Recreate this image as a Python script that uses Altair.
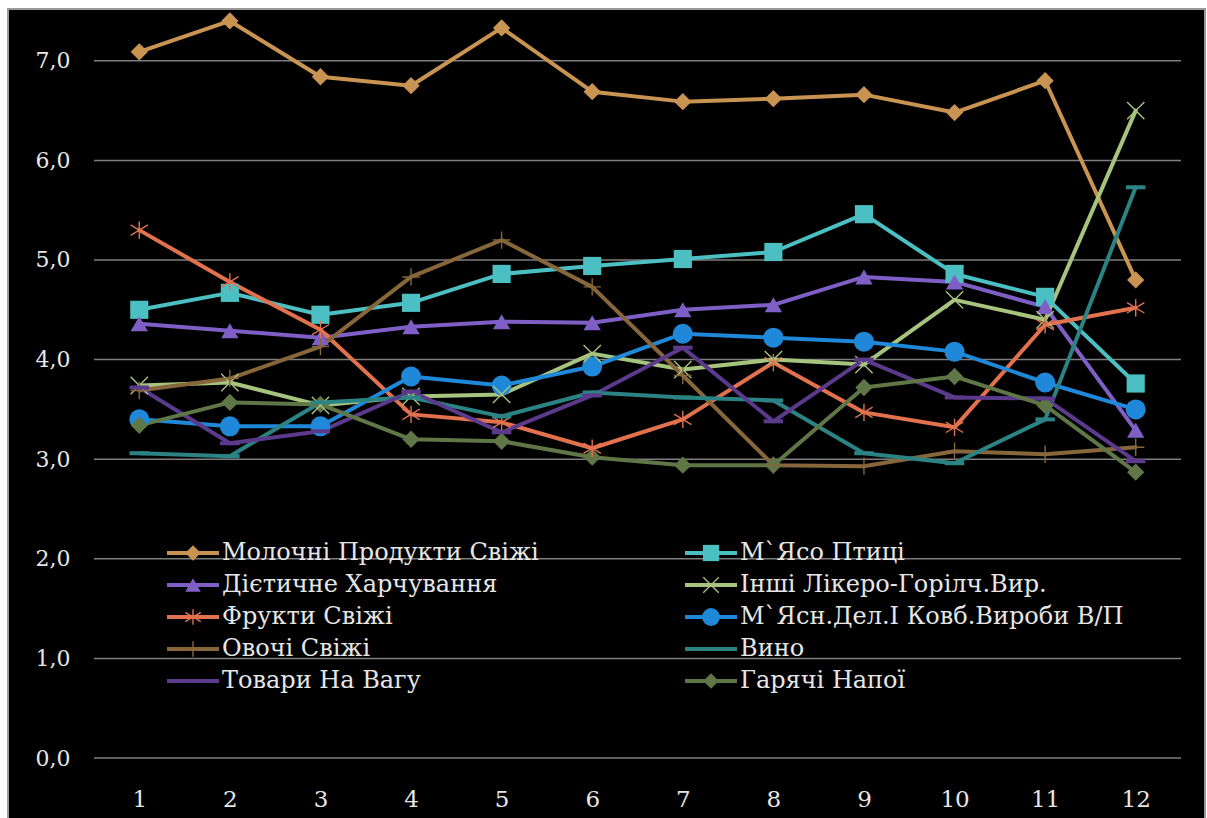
import altair as alt
import pandas as pd

# ---- data -------------------------------------------------------------
months = list(range(1, 13))

series_names = [
    "Молочні Продукти Свіжі",
    "М`Ясо Птиці",
    "Дієтичне Харчування",
    "Інші Лікеро-Горілч.Вир.",
    "Фрукти Свіжі",
    "М`Ясн.Дел.І Ковб.Вироби В/П",
    "Овочі Свіжі",
    "Вино",
    "Товари На Вагу",
    "Гарячі Напої",
]

moloch = [7.09, 7.40, 6.84, 6.75, 7.33, 6.69, 6.59, 6.62, 6.66, 6.48, 6.80, 4.80]
myaso = [4.50, 4.67, 4.45, 4.57, 4.86, 4.94, 5.01, 5.08, 5.46, 4.86, 4.63, 3.76]
dietychne = [4.36, 4.29, 4.22, 4.33, 4.38, 4.37, 4.50, 4.55, 4.83, 4.78, 4.53, 3.29]
inshi = [3.74, 3.77, 3.54, 3.63, 3.65, 4.06, 3.90, 4.00, 3.95, 4.60, 4.40, 6.50]
frukty = [5.30, 4.78, 4.30, 3.45, 3.37, 3.11, 3.40, 3.97, 3.47, 3.32, 4.35, 4.52]
kovb = [3.40, 3.33, 3.33, 3.83, 3.74, 3.93, 4.26, 4.22, 4.18, 4.08, 3.77, 3.50]
ovochi = [3.69, 3.81, 4.13, 4.83, 5.20, 4.73, 3.84, 2.94, 2.93, 3.08, 3.05, 3.12]
vyno = [3.06, 3.03, 3.57, 3.62, 3.43, 3.67, 3.62, 3.59, 3.06, 2.96, 3.40, 5.73]
tovary = [3.72, 3.16, 3.28, 3.68, 3.27, 3.64, 4.12, 3.38, 4.00, 3.62, 3.61, 2.98]
napoi = [3.34, 3.57, 3.55, 3.20, 3.18, 3.02, 2.94, 2.94, 3.72, 3.83, 3.54, 2.87]

series_values = [moloch, myaso, dietychne, inshi, frukty, kovb, ovochi, vyno, tovary, napoi]

colors = [
    "#C99352", "#4BBFC2", "#7F5FC6", "#A6C47E", "#E2714E",
    "#2088D8", "#86663A", "#2B8383", "#5B3A8C", "#5F7647",
]

y_ticks = [0, 1, 2, 3, 4, 5, 6, 7]

# ---- marker styles ----------------------------------------------------
ASTERISK = "M0,-1L0,1M-1,-0.6L1,0.6M-1,0.6L1,-0.6"
PLUS = "M-1,0L1,0M0,-1L0,1"
XMARK = "M-1,-1L1,1M-1,1L1,-1"

# shape, filled, size, stroke width
marker_style = [
    ("diamond", True, 300, 0),
    ("square", True, 330, 0),
    ("triangle-up", True, 300, 0),
    ("cross", False, 300, 1.4),
    ("star", False, 300, 1.4),
    ("circle", True, 400, 0),
    ("plus", False, 300, 1.4),
    ("dash", False, 380, 4),
    ("dash", False, 380, 4),
    ("diamond", True, 300, 0),
]
shape_paths = {"cross": XMARK, "star": ASTERISK, "plus": PLUS, "dash": "stroke"}

rows = []
for i, (name, vals) in enumerate(zip(series_names, series_values)):
    shp, filled, size, sw = marker_style[i]
    for m, v in zip(months, vals):
        rows.append({
            "series": name, "order": i, "month": m, "value": v,
            "shape": shape_paths.get(shp, shp), "filled": filled,
            "msize": size, "msw": sw,
        })
df = pd.DataFrame(rows)

legend_df = pd.DataFrame({
    "series": series_names,
    "idx": list(range(len(series_names))),
    "shape": [shape_paths.get(s[0], s[0]) for s in marker_style],
    "filled": [s[1] for s in marker_style],
    "msize": [s[2] * 0.8 for s in marker_style],
    "msw": [s[3] for s in marker_style],
})

# ---- layout -----------------------------------------------------------
W, H = 1087, 749
PAD = {"left": 94, "top": 9, "right": 26, "bottom": 60}
FONT = "DejaVu Serif"
TEXT_COLOR = "#e6e6e6"

x_scale = alt.Scale(domain=[0.5, 12.5], nice=False, zero=False)
y_scale = alt.Scale(domain=[0, 7.52], nice=False)
color_scale = alt.Scale(domain=series_names, range=colors)

# black panel behind the plot
backdrop = alt.Chart(alt.Data(values=[{}])).mark_rect(
    fill="black", stroke="#9a9a9a", strokeWidth=2
).encode(
    x=alt.value(-86), x2=alt.value(1111), y=alt.value(0), y2=alt.value(815)
)

# horizontal gridlines
grid = alt.Chart(pd.DataFrame({"g": y_ticks})).mark_rule(
    color="#7f7f7f", strokeWidth=1.5
).encode(
    y=alt.Y("g:Q", scale=y_scale),
    x=alt.value(0), x2=alt.value(W),
)

x_axis = alt.Axis(
    values=months, grid=False, domain=False, ticks=False, title=None,
    labelFont=FONT, labelFontSize=23, labelColor=TEXT_COLOR,
    labelPadding=30, zindex=1,
)
y_axis = alt.Axis(
    values=y_ticks, grid=False, domain=False, ticks=False, title=None,
    labelFont=FONT, labelFontSize=22, labelColor=TEXT_COLOR,
    labelPadding=24, zindex=1,
    labelExpr="replace(format(datum.value, '.1f'), '.', ',')",
)

base = alt.Chart(df).encode(
    x=alt.X("month:Q", scale=x_scale, axis=x_axis),
    y=alt.Y("value:Q", scale=y_scale, axis=y_axis),
    color=alt.Color("series:N", scale=color_scale, legend=None),
)

lines = base.mark_line(strokeWidth=4, strokeJoin="round", strokeCap="round").encode(
    order=alt.Order("month:Q")
)

pts_filled = base.transform_filter("datum.filled").mark_point(
    filled=True, opacity=1
).encode(
    shape=alt.Shape("shape:N", scale=None),
    size=alt.Size("msize:Q", scale=None),
)

pts_stroked = base.transform_filter("!datum.filled").mark_point(
    filled=False, opacity=1
).encode(
    shape=alt.Shape("shape:N", scale=None),
    size=alt.Size("msize:Q", scale=None),
    strokeWidth=alt.StrokeWidth("msw:Q", scale=None),
)

# ---- legend (two columns, inside the plot) ---------------------------
leg_base = alt.Chart(legend_df).transform_calculate(
    col="datum.idx % 2",
    row="floor(datum.idx / 2)",
).transform_calculate(
    lx1="73 + datum.col * 518",
    lx2="125 + datum.col * 518",
    mx="99 + datum.col * 518",
    tx="128 + datum.col * 518",
    ly="544 + datum.row * 32",
)

leg_lines = leg_base.mark_rule(strokeWidth=4).encode(
    x=alt.X("lx1:Q", scale=None), x2="lx2:Q",
    y=alt.Y("ly:Q", scale=None),
    color=alt.Color("series:N", scale=color_scale, legend=None),
)

leg_filled = leg_base.transform_filter("datum.filled").mark_point(
    filled=True, opacity=1
).encode(
    x=alt.X("mx:Q", scale=None), y=alt.Y("ly:Q", scale=None),
    color=alt.Color("series:N", scale=color_scale, legend=None),
    shape=alt.Shape("shape:N", scale=None),
    size=alt.Size("msize:Q", scale=None),
)

leg_stroked = leg_base.transform_filter("!datum.filled").mark_point(
    filled=False, opacity=1
).encode(
    x=alt.X("mx:Q", scale=None), y=alt.Y("ly:Q", scale=None),
    color=alt.Color("series:N", scale=color_scale, legend=None),
    shape=alt.Shape("shape:N", scale=None),
    size=alt.Size("msize:Q", scale=None),
    strokeWidth=alt.StrokeWidth("msw:Q", scale=None),
)

leg_text = leg_base.mark_text(
    align="left", baseline="middle", font=FONT, fontSize=24, color=TEXT_COLOR
).encode(
    x=alt.X("tx:Q", scale=None), y=alt.Y("ly:Q", scale=None),
    text="series:N",
)

chart = alt.layer(
    backdrop, grid, lines, pts_filled, pts_stroked,
    leg_lines, leg_filled, leg_stroked, leg_text,
).properties(
    width=W, height=H,
    padding=PAD,
    autosize=alt.AutoSizeParams(type="none"),
    background="white",
).configure_view(stroke=None)

chart.save("out.html", embed_options={"renderer": "svg", "actions": False})
